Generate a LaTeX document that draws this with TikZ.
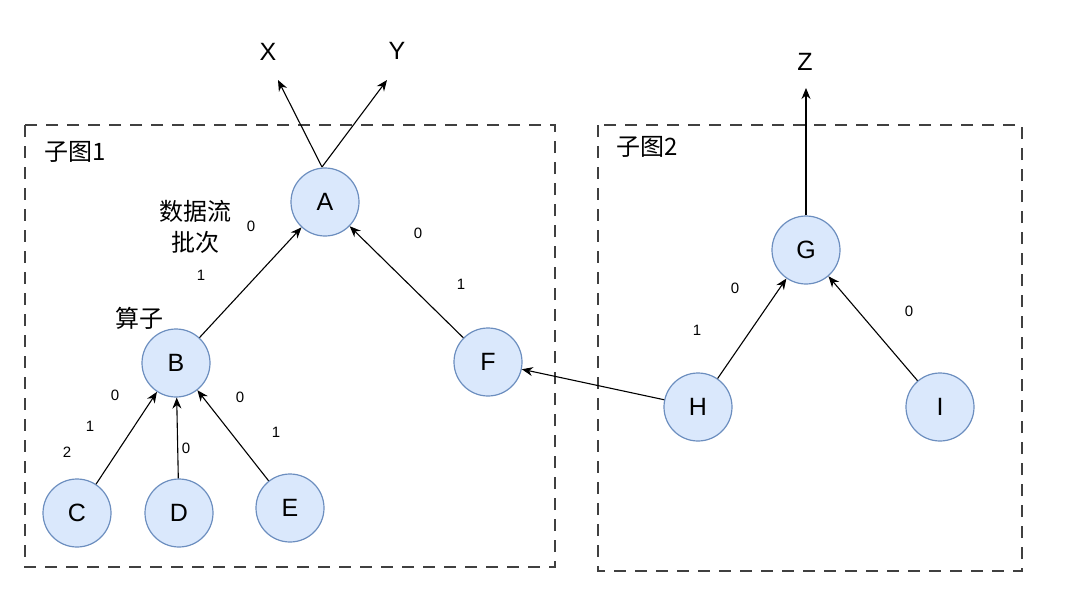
\documentclass[tikz,border=0pt]{standalone}
\usepackage{fontspec}
\setmainfont{Liberation Sans}
\newfontfamily\cjk{Noto Sans CJK SC}
\usetikzlibrary{arrows.meta}
\begin{document}
\begin{tikzpicture}[x=1pt,y=-1pt,
  opnode/.style={circle,line width=1.2pt,minimum size=68pt,inner sep=0pt,font=\fontsize{25}{28}\selectfont},
  flow/.style={-{Stealth[length=11pt,width=9pt]},line width=1.1pt,black},
  boxstyle/.style={draw=black!75,line width=1.5pt,dash pattern=on 12pt off 9pt},
  elabel/.style={font=\fontsize{15}{17}\selectfont,inner sep=0pt},
  tlabel/.style={font=\cjk\fontsize{24}{31}\selectfont,inner sep=0pt,align=center},
  outlabel/.style={font=\fontsize{25}{28}\selectfont,inner sep=0pt}]
\definecolor{nodefill}{HTML}{DAE8FC}
\definecolor{nodeedge}{HTML}{6C8EBF}
\tikzset{opnode/.append style={draw=nodeedge,fill=nodefill}}
\useasboundingbox (0,0) rectangle (1080,600);
% boxes
\draw[boxstyle] (25,125) rectangle (555,567);
\draw[boxstyle] (598,125) rectangle (1022,571);
\node[tlabel] (t1) at (75,152) {子图1};
\node[tlabel] (t2) at (647,147) {子图2};
% nodes
\node[opnode] (A) at (325,202) {A};
\node[opnode] (B) at (176,363) {B};
\node[opnode] (C) at (77,513) {C};
\node[opnode] (D) at (179,513) {D};
\node[opnode] (E) at (290,508) {E};
\node[opnode] (F) at (488,362) {F};
\node[opnode] (G) at (806,250) {G};
\node[opnode] (H) at (698,407) {H};
\node[opnode] (I) at (940,407) {I};
% outputs
\node[outlabel] (X) at (268,52) {X};
\node[outlabel] (Y) at (397,51) {Y};
\node[outlabel] (Z) at (805,62) {Z};
\coordinate (Atop) at (322,167);
\coordinate (Xe) at (278,80);
\coordinate (Ye) at (387,80);
\coordinate (Ze) at (806,88);
\draw[flow] (Atop) -- (Xe);
\draw[flow] (Atop) -- (Ye);
\draw[flow] (G) -- (Ze);
% edges
\draw[flow] (B) -- (A);
\draw[flow] (F) -- (A);
\draw[flow] (C) -- (B);
\draw[flow] (D) -- (B);
\draw[flow] (E) -- (B);
\draw[flow] (H) -- (G);
\draw[flow] (I) -- (G);
\draw[flow] (H) -- (F);
% labels
\node[tlabel] (df) at (195,227) {数据流\\批次};
\node[tlabel] (sz) at (139,318) {算子};
\node[elabel] (l1) at (251,226) {0};
\node[elabel] (l2) at (201,275) {1};
\node[elabel] (l3) at (418,233) {0};
\node[elabel] (l4) at (461,284) {1};
\node[elabel] (l5) at (67,452) {2};
\node[elabel] (l6) at (90,426) {1};
\node[elabel] (l7) at (115,395) {0};
\node[elabel] (l8) at (186,448) {0};
\node[elabel] (l9) at (240,397) {0};
\node[elabel] (l10) at (276,432) {1};
\node[elabel] (l11) at (735,288) {0};
\node[elabel] (l12) at (697,330) {1};
\node[elabel] (l13) at (909,311) {0};
\end{tikzpicture}
\end{document}
